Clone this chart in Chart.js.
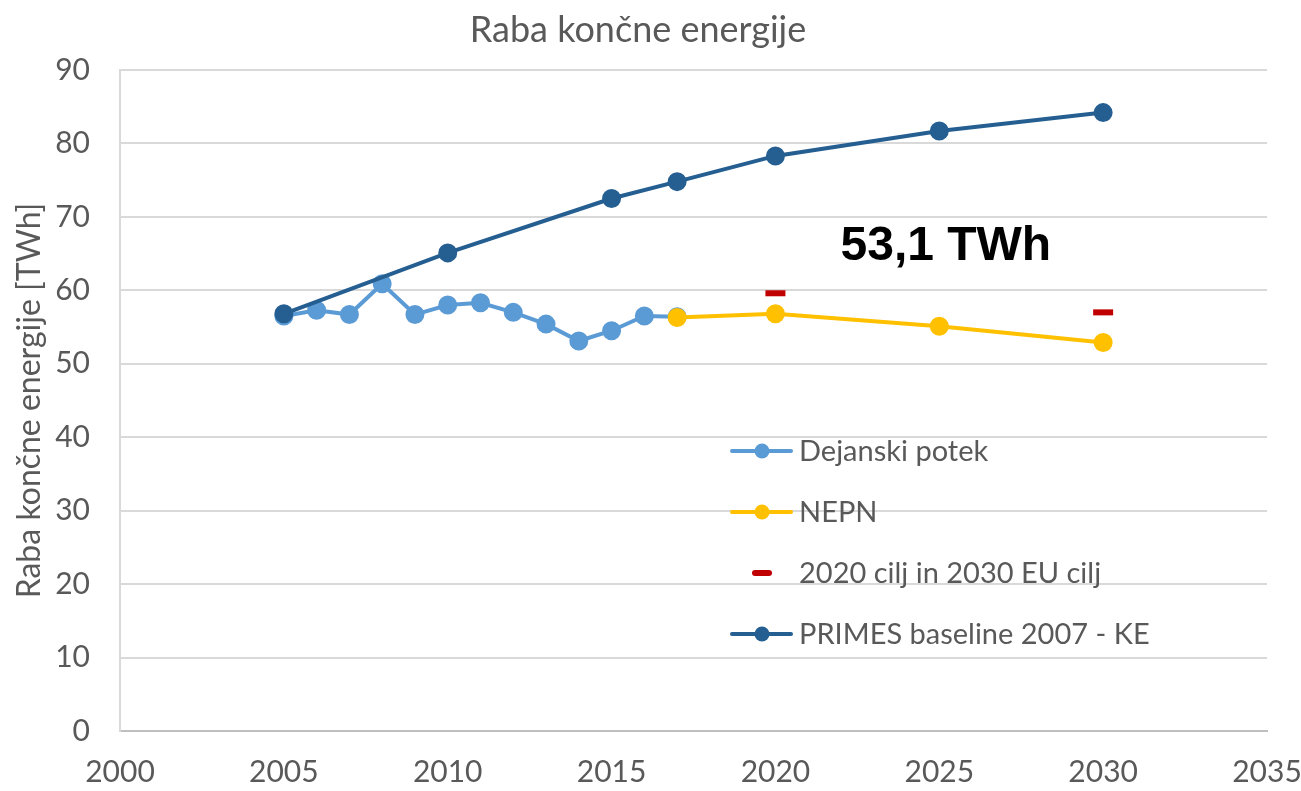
<!DOCTYPE html>
<html>
<head>
<meta charset="utf-8">
<script src="https://cdn.jsdelivr.net/npm/chart.js@4.4.1/dist/chart.umd.min.js"></script>
<style>
  html, body { margin: 0; padding: 0; background: #fff; }
  #wrap { width: 1301px; height: 791px; }
</style>
</head>
<body>
<div id="wrap"><canvas id="chart"></canvas></div>
<script>
// ---- data ----
const actualYears  = [2005, 2006, 2007, 2008, 2009, 2010, 2011, 2012, 2013, 2014, 2015, 2016, 2017];
const actualValues = [56.5, 57.3, 56.7, 60.9, 56.7, 58.0, 58.3, 57.0, 55.4, 53.1, 54.5, 56.5, 56.4];

const nepnYears  = [2017, 2020, 2025, 2030];
const nepnValues = [56.3, 56.8, 55.1, 52.9];

const targetYears  = [2020, 2030];
const targetValues = [59.6, 57.0];

const primesYears  = [2005, 2010, 2015, 2017, 2020, 2025, 2030];
const primesValues = [56.8, 65.1, 72.5, 74.8, 78.3, 81.7, 84.2];

const seriesNames = ['Dejanski potek', 'NEPN', '2020 cilj in 2030 EU cilj', 'PRIMES baseline 2007 - KE'];
const chartTitle = 'Raba končne energije';
const yAxisTitle = 'Raba končne energije [TWh]';
const noteText = '53,1 TWh';

const FONT = 'Lato, "Open Sans", sans-serif';
const GREY = '#595959';

const toPoints = (xs, ys) => xs.map((x, i) => ({ x: x, y: ys[i] }));

const colors = {
  actual: '#5B9BD5',
  nepn: '#FFC000',
  target: '#C00000',
  primes: '#255E91'
};

// title, note and legend drawn on the canvas
const decorations = {
  id: 'decorations',
  afterDraw(chart) {
    const ctx = chart.ctx;
    const xs = chart.scales.x, ys = chart.scales.y;
    ctx.save();

    // title
    ctx.fillStyle = GREY;
    ctx.font = '36px ' + FONT;
    ctx.textAlign = 'center';
    ctx.textBaseline = 'middle';
    ctx.fillText(chartTitle, 638, 30);

    // note
    ctx.fillStyle = '#000';
    ctx.font = 'bold 48px "Liberation Sans", Arial, sans-serif';
    ctx.fillText(noteText, xs.getPixelForValue(2025.2), ys.getPixelForValue(65.9));

    // legend
    const items = [
      { c: colors.actual, line: true },
      { c: colors.nepn, line: true },
      { c: colors.target, line: false },
      { c: colors.primes, line: true }
    ];
    const lx = 732, ly = 451, gap = 61;
    ctx.font = '29px ' + FONT;
    ctx.textAlign = 'left';
    items.forEach((it, i) => {
      const y = ly + i * gap;
      if (it.line) {
        ctx.strokeStyle = it.c;
        ctx.lineWidth = 4;
        ctx.lineCap = 'round';
        ctx.beginPath();
        ctx.moveTo(lx, y);
        ctx.lineTo(lx + 59, y);
        ctx.stroke();
        ctx.fillStyle = it.c;
        ctx.beginPath();
        ctx.arc(lx + 30, y, 7.5, 0, Math.PI * 2);
        ctx.fill();
      } else {
        ctx.strokeStyle = it.c;
        ctx.lineWidth = 6;
        ctx.lineCap = 'round';
        ctx.beginPath();
        ctx.moveTo(lx + 23, y);
        ctx.lineTo(lx + 37, y);
        ctx.stroke();
      }
      ctx.fillStyle = GREY;
      ctx.fillText(seriesNames[i], lx + 67, y + 1);
    });
    ctx.restore();
  }
};

new Chart(document.getElementById('chart'), {
  type: 'line',
  data: {
    datasets: [
      {
        label: seriesNames[3],
        data: toPoints(primesYears, primesValues),
        borderColor: colors.primes,
        backgroundColor: colors.primes,
        borderWidth: 4,
        pointRadius: 7.5,
        pointHoverRadius: 7.5,
        order: 1
      },
      {
        label: seriesNames[1],
        data: toPoints(nepnYears, nepnValues),
        borderColor: colors.nepn,
        backgroundColor: colors.nepn,
        borderWidth: 4,
        pointRadius: 7.5,
        pointHoverRadius: 7.5,
        order: 2
      },
      {
        label: seriesNames[2],
        data: toPoints(targetYears, targetValues),
        borderColor: colors.target,
        backgroundColor: colors.target,
        showLine: false,
        pointStyle: 'line',
        pointRadius: 10,
        pointBorderWidth: 6,
        order: 3
      },
      {
        label: seriesNames[0],
        data: toPoints(actualYears, actualValues),
        borderColor: colors.actual,
        backgroundColor: colors.actual,
        borderWidth: 4,
        pointRadius: 7.5,
        pointHoverRadius: 7.5,
        order: 4
      }
    ]
  },
  options: {
    responsive: true,
    maintainAspectRatio: false,
    animation: false,
    layout: { padding: { top: 70, right: 34, left: 0, bottom: 0 } },
    plugins: {
      legend: { display: false },
      title: { display: false },
      tooltip: { enabled: false }
    },
    scales: {
      x: {
        type: 'linear',
        min: 2000,
        max: 2035,
        ticks: { stepSize: 5, color: GREY, font: { family: FONT, size: 30 }, padding: 23, callback: v => String(v) },
        grid: { display: false, drawTicks: false },
        border: { display: true, color: '#bfbfbf', width: 2 },
        afterFit(scale) {
          scale.height = 60;
          scale.paddingLeft = 0;
          scale.paddingRight = 0;
        }
      },
      y: {
        min: 0,
        max: 90,
        ticks: { stepSize: 10, color: GREY, font: { family: FONT, size: 30 }, padding: 30 },
        grid: { color: '#d9d9d9', lineWidth: 2, drawTicks: false },
        border: { display: true, color: '#d9d9d9', width: 2 },
        title: { display: true, text: yAxisTitle, color: GREY, font: { family: FONT, size: 32 }, padding: { top: 10, bottom: 0 } },
        afterFit(scale) { scale.width = 120; }
      }
    }
  },
  plugins: [decorations]
});
</script>
</body>
</html>
